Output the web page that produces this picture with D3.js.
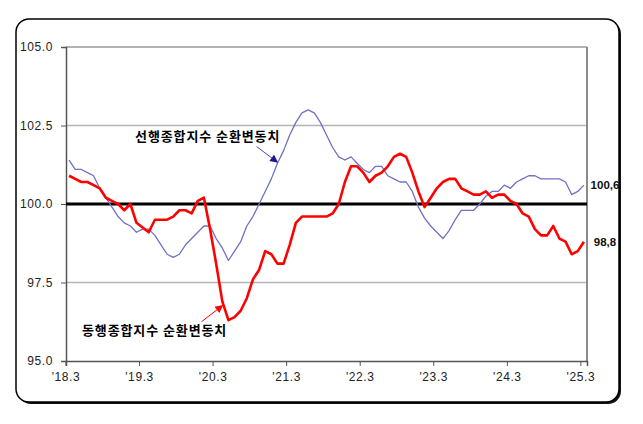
<!DOCTYPE html>
<html><head><meta charset="utf-8">
<script src="https://cdn.jsdelivr.net/npm/d3@7"></script>
<style>
html,body{margin:0;padding:0;background:#fff;}
svg{display:block;}
</style></head>
<body>
<svg id="c" width="643" height="424"></svg>
<script>
// Monthly categories '18.3 .. '25.3
const startYear = 2018, startMonth = 3, nMonths = 85;
const categories = [];
for (let k = 0; k < nMonths; k++) {
  const m = startMonth - 1 + k;
  categories.push((startYear + Math.floor(m / 12)) + "." + String(m % 12 + 1).padStart(2, "0"));
}
const tickCategories = ["2018.03","2019.03","2020.03","2021.03","2022.03","2023.03","2024.03","2025.03"];
const tickLabels = ["'18.3","'19.3","'20.3","'21.3","'22.3","'23.3","'24.3","'25.3"];
const yTicks = [95, 97.5, 100, 102.5, 105];
const yTickLabels = ["95.0","97.5","100.0","102.5","105.0"];

// 선행종합지수 순환변동치 (leading index, cyclical component)
const leading = [
101.4,101.1,101.1,101.0,100.9,100.5,100.2,99.9,99.6,99.4,
99.3,99.1,99.2,99.2,99.0,98.7,98.4,98.3,98.4,98.7,
98.9,99.1,99.3,99.3,98.9,98.6,98.2,98.5,98.8,99.3,
99.6,100.0,100.4,100.8,101.3,101.7,102.2,102.6,102.9,103.0,
102.9,102.6,102.2,101.8,101.5,101.4,101.5,101.3,101.1,101.0,
101.2,101.2,100.9,100.8,100.7,100.7,100.4,99.9,99.55,99.3,
99.1,98.9,99.15,99.5,99.8,99.8,99.8,100.0,100.25,100.4,
100.4,100.6,100.5,100.7,100.8,100.9,100.9,100.8,100.8,100.8,
100.8,100.7,100.3,100.4,100.6];
// 동행종합지수 순환변동치 (coincident index, cyclical component)
const coincident = [
100.9,100.8,100.7,100.7,100.6,100.5,100.2,100.1,100.0,99.8,
100.0,99.4,99.25,99.1,99.5,99.5,99.5,99.6,99.8,99.8,
99.7,100.1,100.2,99.2,98.1,96.9,96.3,96.4,96.6,97.0,
97.6,97.9,98.5,98.4,98.1,98.1,98.7,99.4,99.6,99.6,
99.6,99.6,99.6,99.7,100.0,100.7,101.2,101.2,101.0,100.7,
100.9,101.0,101.2,101.5,101.6,101.5,101.0,100.4,99.9,100.2,
100.5,100.7,100.8,100.8,100.5,100.4,100.3,100.3,100.4,100.2,
100.3,100.3,100.1,100.0,99.7,99.6,99.2,99.0,99.0,99.3,
98.9,98.8,98.4,98.5,98.8];
const lastLabels = ["100,6", "98,8"];

const svg = d3.select("#c");
const L = 66, R = 587, T = 47, B = 361;

// outer rounded frame with shadow
svg.append("rect").attr("x", 18).attr("y", 21).attr("width", 603).attr("height", 383)
  .attr("rx", 13).attr("fill", "#111");
svg.append("rect").attr("x", 16).attr("y", 19).attr("width", 603).attr("height", 383)
  .attr("rx", 13).attr("fill", "#fff").attr("stroke", "#000").attr("stroke-width", 1.5);

const x = d3.scaleBand().domain(categories).range([L, R]).paddingInner(0).paddingOuter(0);
const xc = c => x(c) + x.bandwidth() / 2;
const xi = d3.scaleLinear().domain([-0.5, nMonths - 0.5]).range([L, R]); // fractional index for annotations
const y = d3.scaleLinear().domain([95, 105]).range([B, T]);

// gridlines
svg.append("g").selectAll("line").data([97.5, 102.5]).join("line")
  .attr("x1", L).attr("x2", R).attr("y1", d => y(d)).attr("y2", d => y(d))
  .attr("stroke", "#b4b4b4").attr("stroke-width", 1.5);
// plot border top & right
svg.append("line").attr("x1", L).attr("x2", R).attr("y1", y(105)).attr("y2", y(105))
  .attr("stroke", "#9a9a9a").attr("stroke-width", 1.5);
svg.append("line").attr("x1", R).attr("x2", R).attr("y1", T).attr("y2", B)
  .attr("stroke", "#8a8a8a").attr("stroke-width", 2);

// Y axis
const yAxis = d3.axisLeft(y).tickValues(yTicks).tickSize(5).tickPadding(8)
  .tickFormat((d, i) => yTickLabels[i]);
const gy = svg.append("g").attr("transform", `translate(${L},0)`).call(yAxis);
gy.select(".domain").attr("stroke", "#555").attr("stroke-width", 1.5);
gy.selectAll(".tick line").attr("stroke", "#555");
gy.selectAll(".tick text").attr("font-family", "Liberation Sans, Arial, sans-serif")
  .attr("font-size", 12).attr("fill", "#222").attr("letter-spacing", "0.6px");

// X axis
const xAxis = d3.axisBottom(x).tickValues(tickCategories).tickSize(5).tickPadding(6)
  .tickFormat((d, i) => tickLabels[i]);
const gx = svg.append("g").attr("transform", `translate(0,${B})`).call(xAxis);
gx.selectAll(".tick").attr("transform", d => `translate(${x(d)},0)`);
gx.select(".domain").attr("stroke", "#555").attr("stroke-width", 1.5);
gx.selectAll(".tick line").attr("stroke", "#555");
gx.selectAll(".tick text").attr("font-family", "Liberation Sans, Arial, sans-serif")
  .attr("font-size", 12).attr("fill", "#222").attr("letter-spacing", "0.6px");

// reference line at 100
svg.append("line").attr("x1", L).attr("x2", R).attr("y1", y(100)).attr("y2", y(100))
  .attr("stroke", "#000").attr("stroke-width", 3);

// series
const line = d3.line().x((d, i) => xc(categories[i])).y(d => y(d));
svg.append("path").datum(leading).attr("d", line).attr("fill", "none")
  .attr("stroke", "#7070c4").attr("stroke-width", 1.3).attr("stroke-linejoin", "round");
svg.append("path").datum(coincident).attr("d", line).attr("fill", "none")
  .attr("stroke", "#ff0000").attr("stroke-width", 2.6).attr("stroke-linejoin", "round");

// end labels
const lastVals = [leading[nMonths - 1], coincident[nMonths - 1]];
svg.append("g").selectAll("text").data(lastVals).join("text")
  .attr("x", R + 18).attr("y", d => y(d)).attr("dy", "0.36em")
  .attr("text-anchor", "middle").attr("font-family", "Liberation Sans, Arial, sans-serif")
  .attr("font-weight", "bold").attr("font-size", 11.5).attr("fill", "#111")
  .text((d, i) => lastLabels[i]);

// annotations (positioned in data space)
const defs = svg.append("defs");
function marker(id, color) {
  defs.append("marker").attr("id", id).attr("viewBox", "0 0 10 10").attr("refX", 9).attr("refY", 5)
    .attr("markerWidth", 9).attr("markerHeight", 8).attr("orient", "auto").attr("markerUnits", "userSpaceOnUse")
    .append("path").attr("d", "M0,0 L10,5 L0,10 z").attr("fill", color);
}
marker("ab", "#1a1a8c");
marker("ar", "#ff0000");

const annos = [
  {text: "선행종합지수 순환변동치", tx: 10.76, tv: 102.17, ax1: 30.6, av1: 101.83, ax2: 34.0, av2: 101.33, color: "#4a4ab0", m: "ab"},
  {text: "동행종합지수 순환변동치", tx: 2.1, tv: 95.99, ax1: 21.6, av1: 96.25, ax2: 25.05, av2: 96.77, color: "#ff0000", m: "ar"}
];
annos.forEach(a => {
  svg.append("line").attr("x1", xi(a.ax1)).attr("y1", y(a.av1)).attr("x2", xi(a.ax2)).attr("y2", y(a.av2))
    .attr("stroke", a.color).attr("stroke-width", 1).attr("marker-end", `url(#${a.m})`);
  svg.append("text").attr("x", xi(a.tx)).attr("y", y(a.tv)).attr("dy", "0.36em")
    .attr("font-family", "Noto Sans CJK KR, sans-serif").attr("font-weight", "bold")
    .attr("font-size", 13).attr("letter-spacing", "0.9px").attr("fill", "#000").text(a.text);
});
</script>
</body></html>
